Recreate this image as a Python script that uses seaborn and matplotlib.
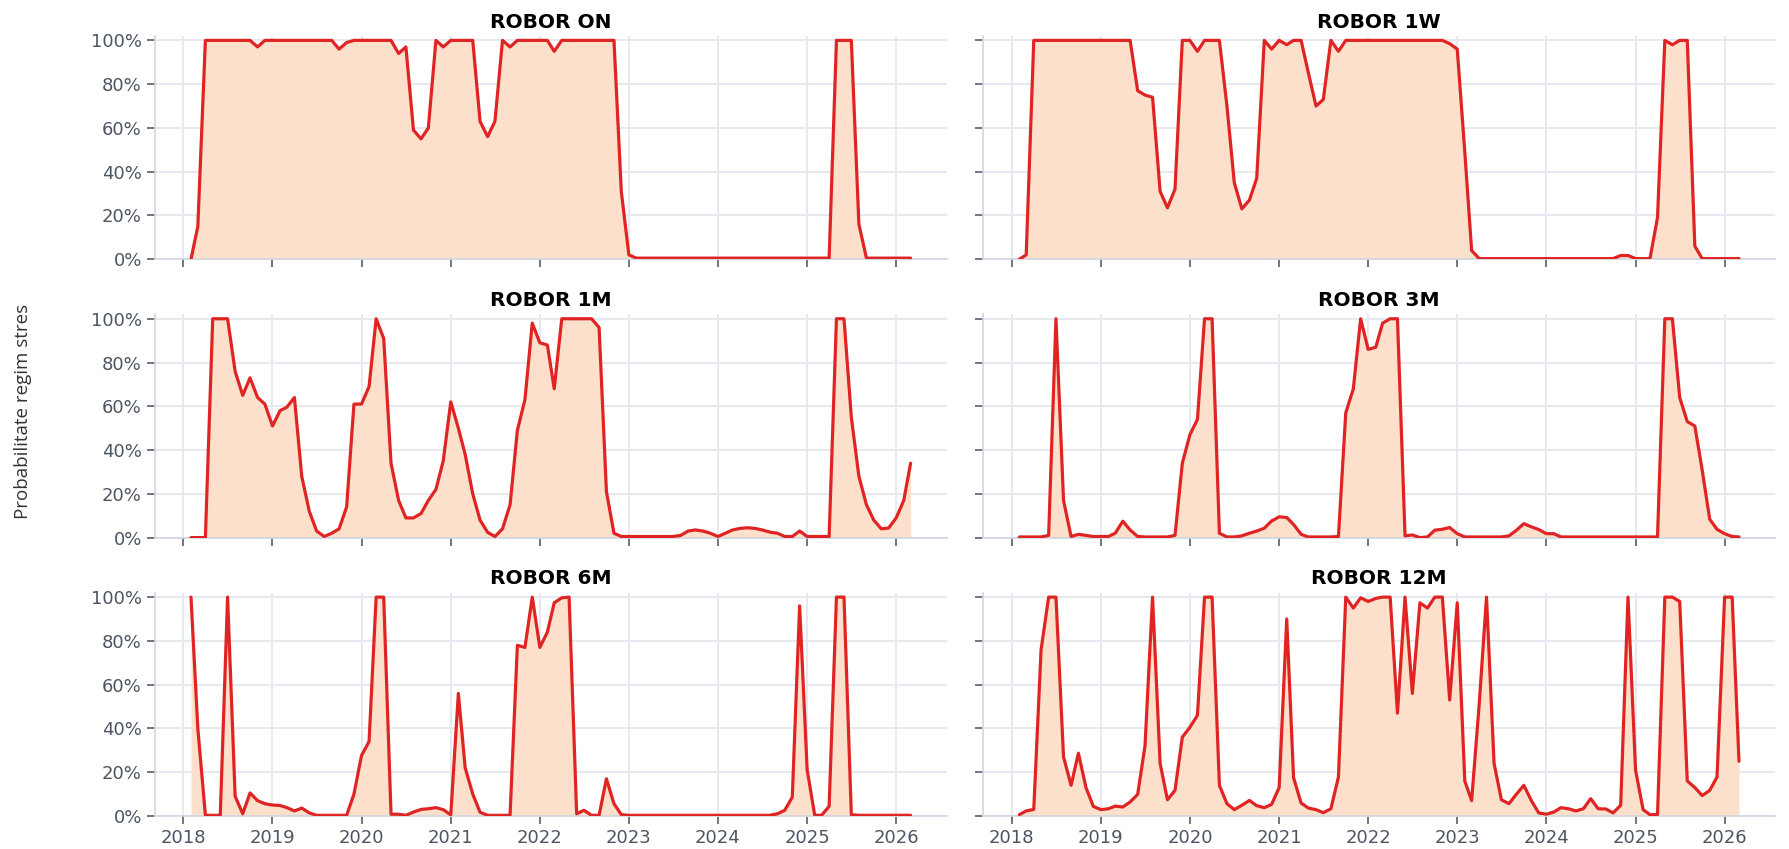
import numpy as np
import pandas as pd
import seaborn as sns
import matplotlib.pyplot as plt
import matplotlib.dates as mdates
from matplotlib.ticker import PercentFormatter

# monthly stress-regime probabilities (%), Feb 2018 .. Mar 2026
dates = pd.date_range("2018-02-01", periods=98, freq="MS")

robor_on = [0, 15, 100, 100, 100, 100, 100, 100, 100, 97,
            100, 100, 100, 100, 100, 100, 100, 100, 100, 100,
            96, 99, 100, 100, 100, 100, 100, 100, 94, 97,
            59, 55, 60, 100, 97, 100, 100, 100, 100, 63,
            56, 63, 100, 97, 100, 100, 100, 100, 100, 95,
            100, 100, 100, 100, 100, 100, 100, 100, 31, 2,
            0.5, 0.5, 0.5, 0.5, 0.5, 0.5, 0.5, 0.5, 0.5, 0.5,
            0.5, 0.5, 0.5, 0.5, 0.5, 0.5, 0.5, 0.5, 0.5, 0.5,
            0.5, 0.5, 0.5, 0.5, 0.5, 0.5, 0.5, 100, 100, 100,
            16, 0.5, 0.5, 0.5, 0.5, 0.5, 0.5, 0.5]

robor_1w = [0, 2, 100, 100, 100, 100, 100, 100, 100, 100,
            100, 100, 100, 100, 100, 100, 77, 75, 74, 31,
            23.5, 32, 100, 100, 95, 100, 100, 100, 70, 35,
            23, 27, 37, 100, 96, 100, 98, 100, 100, 85,
            70, 73, 100, 95, 100, 100, 100, 100, 100, 100,
            100, 100, 100, 100, 100, 100, 100, 100, 98.5, 96,
            49, 4, 0.3, 0.3, 0.3, 0.3, 0.3, 0.3, 0.3, 0.3,
            0.3, 0.3, 0.3, 0.3, 0.3, 0.3, 0.3, 0.3, 0.3, 0.3,
            0.3, 1.7, 1.7, 0.3, 0.3, 0.3, 19, 100, 98, 100,
            100, 6, 0.3, 0.3, 0.3, 0.3, 0.3, 0.3]

robor_1m = [0, 0, 0, 100, 100, 100, 76, 65, 73, 64,
            61, 51, 58, 59.6, 64, 28, 12, 3, 0.5, 2,
            4, 14, 61, 61, 69, 100, 91, 34, 17, 9,
            9, 11, 17, 22, 35, 62, 50, 38, 20, 8,
            2.4, 0.5, 4, 15, 49, 63, 98, 89, 88, 68,
            100, 100, 100, 100, 100, 96, 21, 2, 0.5, 0.5,
            0.5, 0.5, 0.5, 0.5, 0.5, 0.5, 1, 3, 3.5, 3,
            2, 0.5, 2, 3.5, 4.2, 4.5, 4.2, 3.5, 2.5, 2,
            0.5, 0.5, 3, 0.5, 0.5, 0.5, 0.5, 100, 100, 55,
            28, 15, 8, 4, 4.4, 9, 17, 34]

robor_3m = [0.3, 0.3, 0.3, 0.3, 1, 100, 17, 0.5, 1.5, 1,
            0.5, 0.5, 0.5, 2, 7.5, 3.5, 0.5, 0.3, 0.3, 0.3,
            0.3, 1, 34, 47, 54, 100, 100, 2, 0.3, 0.3,
            0.8, 2, 3, 4.3, 7.6, 9.5, 9.2, 6, 1.5, 0.3,
            0.3, 0.3, 0.3, 0.5, 57, 68, 100, 86, 87, 98,
            100, 100, 0.8, 1.2, 0, 0.3, 3.4, 3.8, 4.6, 1.8,
            0.3, 0.3, 0.3, 0.3, 0.3, 0.3, 0.8, 3.4, 6.4, 4.9,
            3.7, 1.8, 1.8, 0.3, 0.3, 0.3, 0.3, 0.3, 0.3, 0.3,
            0.3, 0.3, 0.3, 0.3, 0.3, 0.3, 0.3, 100, 100, 64,
            53, 51, 31, 8.4, 3.8, 1.8, 0.5, 0.3]

robor_6m = [100, 40, 0.3, 0.3, 0.3, 100, 9, 1, 10.5, 7,
            5.6, 5, 4.8, 3.8, 2.3, 3.6, 1.4, 0.3, 0.3, 0.3,
            0.3, 0.3, 10, 27.6, 34, 100, 100, 0.8, 0.8, 0.3,
            1.8, 3, 3.3, 3.8, 2.9, 0.5, 56, 22, 10, 1.7,
            0.3, 0.3, 0.3, 0.3, 78, 77, 100, 77, 84, 97.4,
            99.7, 100, 1, 2.6, 0.3, 0.3, 17, 5.6, 0.6, 0.3,
            0.3, 0.3, 0.3, 0.3, 0.3, 0.3, 0.3, 0.3, 0.3, 0.3,
            0.3, 0.3, 0.3, 0.3, 0.3, 0.3, 0.3, 0.3, 0.3, 1,
            2.6, 8.6, 96, 21, 0.3, 0.3, 4.4, 100, 100, 0.6,
            0.3, 0.3, 0.3, 0.3, 0.3, 0.3, 0.3, 0.3]

robor_12m = [0.6, 2.3, 3, 76, 100, 100, 27, 14, 28.7, 13,
             4.4, 2.9, 3.3, 4.5, 4.1, 6.4, 9.9, 32, 100, 24,
             7.4, 11.7, 36, 40.5, 46, 100, 100, 14, 5.6, 2.9,
             4.9, 7.1, 4.7, 3.8, 5.3, 13, 90, 17.5, 5.9, 3.6,
             2.9, 1.5, 3.3, 17.8, 100, 95, 99.7, 98, 99.4, 100,
             100, 47, 100, 56, 97.4, 95, 100, 100, 53, 97.4,
             16, 7, 51, 100, 24, 7.4, 5.6, 10, 14, 7,
             1.4, 0.8, 1.8, 3.8, 3.3, 2.3, 3.3, 7.9, 3.3, 3.2,
             1.4, 4.9, 100, 21, 2.9, 0.6, 0.6, 100, 100, 98,
             16, 13, 9.3, 11.7, 17.8, 100, 100, 25]

titles = ["ROBOR ON", "ROBOR 1W", "ROBOR 1M", "ROBOR 3M", "ROBOR 6M", "ROBOR 12M"]
series = [robor_on, robor_1w, robor_1m, robor_3m, robor_6m, robor_12m]

df = pd.concat(
    [pd.DataFrame({"date": dates, "prob": vals, "tenor": name})
     for name, vals in zip(titles, series)],
    ignore_index=True,
)

sns.set_theme(style="whitegrid", rc={
    "grid.color": "#e6e9f0",
    "grid.linewidth": 1.4,
    "axes.edgecolor": "#cfd6e2",
    "axes.linewidth": 1.2,
    "xtick.bottom": True,
    "ytick.left": True,
    "xtick.color": "#4a4f5a",
    "ytick.color": "#4a4f5a",
    "xtick.labelcolor": "#4d5563",
    "ytick.labelcolor": "#4d5563",
    "xtick.major.size": 6,
    "ytick.major.size": 6,
    "xtick.major.width": 1.1,
    "ytick.major.width": 1.1,
    "xtick.labelsize": 13,
    "ytick.labelsize": 13,
})
plt.rcParams["font.family"] = ["DejaVu Sans"]

line_color = "#e02424"
fill_color = "#fce0cb"

fig, axes = plt.subplots(3, 2, figsize=(17.9, 8.49), dpi=100, sharex=True, sharey=True)
fig.subplots_adjust(left=0.0866, right=0.9916, top=0.9576, bottom=0.0389,
                    wspace=0.0465, hspace=0.247)

for ax, name in zip(axes.flat, titles):
    sub = df[df["tenor"] == name]
    ax.fill_between(sub["date"], 0, sub["prob"], color=fill_color, linewidth=0, zorder=1)
    sns.lineplot(data=sub, x="date", y="prob", ax=ax, color=line_color,
                 linewidth=2.3, zorder=3)
    ax.set_title(name, fontsize=14.5, fontweight="bold", color="black", pad=6)
    ax.set_xlabel("")
    ax.set_ylabel("")
    sns.despine(ax=ax)

ax0 = axes[0, 0]
ax0.set_ylim(0, 102)
ax0.yaxis.set_major_formatter(PercentFormatter(100, decimals=0))
ax0.set_yticks([0, 20, 40, 60, 80, 100])
ax0.xaxis.set_major_locator(mdates.YearLocator())
ax0.xaxis.set_major_formatter(mdates.DateFormatter("%Y"))

fig.text(0.013, 0.515, "Probabilitate regim stres", rotation=90, va="center",
         ha="center", fontsize=13.5, color="#333333", family=["Open Sans", "DejaVu Sans"])

fig.savefig("out.png", dpi=100)
